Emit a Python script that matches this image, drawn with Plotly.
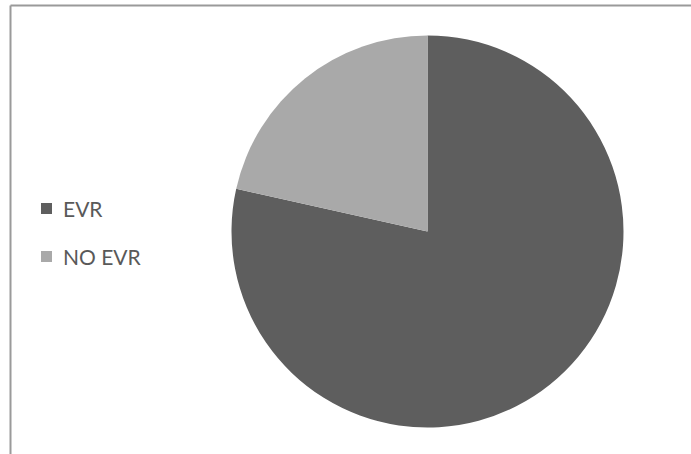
import plotly.graph_objects as go

categories = ["EVR", "NO EVR"]
values = [78.5, 21.5]
colors = ["#5e5e5e", "#a9a9a9"]

W, H = 691, 454

fig = go.Figure(go.Pie(
    labels=categories,
    values=values,
    sort=False,
    direction="clockwise",
    rotation=0,
    marker=dict(colors=colors, line=dict(width=0)),
    textinfo="none",
    hoverinfo="label+percent",
    showlegend=False,
    domain=dict(x=[231.5 / W, 623.5 / W], y=[26.5 / H, 418.5 / H]),
))

shapes = [
    # chart frame (left and top edges visible)
    dict(type="line", xref="paper", yref="paper", x0=10.5 / W, x1=10.5 / W, y0=0, y1=1 - 5.5 / H,
         line=dict(color="#9a9a9a", width=2)),
    dict(type="line", xref="paper", yref="paper", x0=10.5 / W, x1=1, y0=1 - 5.5 / H, y1=1 - 5.5 / H,
         line=dict(color="#9a9a9a", width=2)),
]
annotations = []
legend_y = [208.5, 256.5]
for cat, col, ly in zip(categories, colors, legend_y):
    yc = 1 - ly / H
    shapes.append(dict(type="rect", xref="paper", yref="paper",
                       x0=41 / W, x1=52 / W, y0=yc - 5.5 / H, y1=yc + 5.5 / H,
                       fillcolor=col, line=dict(width=0)))
    annotations.append(dict(text=cat, xref="paper", yref="paper", x=61 / W, y=yc,
                            xanchor="left", yanchor="middle", showarrow=False,
                            font=dict(family="Lato", size=21, color="#595959")))

fig.update_layout(
    width=W, height=H,
    margin=dict(l=0, r=0, t=0, b=0),
    paper_bgcolor="white",
    plot_bgcolor="white",
    shapes=shapes,
    annotations=annotations,
)

fig.write_html("out.html", config={"displayModeBar": False},
               post_script="document.body.style.margin='0px';document.body.style.padding='0px';")
